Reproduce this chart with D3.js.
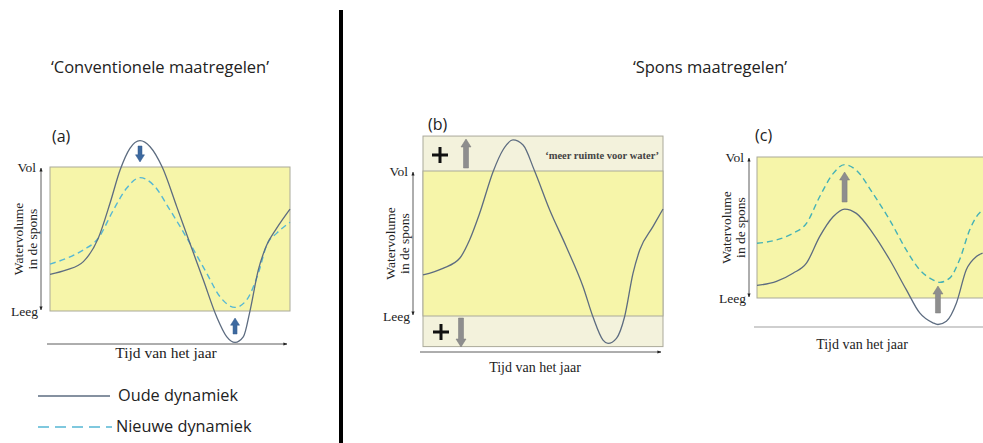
<!DOCTYPE html>
<html><head><meta charset="utf-8">
<script src="https://cdn.jsdelivr.net/npm/d3@7"></script>
<style>body{margin:0;background:#fff}svg{display:block}</style>
</head><body>
<script>
// ---- data (time 0..1 across the year, volume 0 = Leeg, 1 = Vol) ----
const titles = ["\u2018Conventionele maatregelen\u2019", "\u2018Spons maatregelen\u2019"];
const panelLabels = ["(a)", "(b)", "(c)"];
const yTicks = ["Vol", "Leeg"];
const yTitle = ["Watervolume", "in de spons"];
const xTitle = "Tijd van het jaar";
const legendLabels = ["Oude dynamiek", "Nieuwe dynamiek"];
const extraLabel = "\u2018meer ruimte voor water\u2019";

const aOudeT = [0,0.069,0.139,0.201,0.25,0.292,0.333,0.375,0.417,0.468,0.528,0.583,0.639,0.694,0.736,0.771,0.806,0.833,0.868,0.903,0.944,1.0];
const aOudeV = [0.255,0.285,0.343,0.505,0.748,0.979,1.13,1.183,1.141,0.998,0.725,0.47,0.215,-0.039,-0.178,-0.218,-0.178,-0.002,0.285,0.458,0.574,0.708];
const aNieuweT = [0,0.069,0.139,0.201,0.264,0.319,0.375,0.431,0.5,0.583,0.653,0.708,0.771,0.819,0.868,0.903,0.944,1.0];
const aNieuweV = [0.326,0.366,0.424,0.505,0.701,0.852,0.926,0.875,0.701,0.47,0.262,0.1,0.025,0.076,0.262,0.458,0.539,0.616];

const bOudeT = [0,0.083,0.153,0.194,0.236,0.292,0.333,0.375,0.417,0.465,0.528,0.597,0.667,0.708,0.75,0.771,0.806,0.84,0.875,0.903,0.958,1.0];
const bOudeV = [0.283,0.329,0.398,0.524,0.708,0.995,1.145,1.214,1.179,1.0,0.731,0.478,0.202,-0.005,-0.166,-0.189,-0.154,-0.005,0.294,0.455,0.616,0.738];
const bBands = [1.241, -0.211];

const cOudeT = [0,0.081,0.15,0.206,0.261,0.317,0.365,0.414,0.483,0.553,0.622,0.678,0.733,0.754,0.789,0.831,0.872,0.914,0.94];
const cOudeV = [0.089,0.118,0.176,0.247,0.435,0.576,0.631,0.6,0.459,0.271,0.059,-0.106,-0.176,-0.188,-0.165,-0.035,0.2,0.294,0.318];
const cNieuweT = [0,0.081,0.15,0.206,0.261,0.317,0.365,0.414,0.483,0.553,0.622,0.678,0.733,0.761,0.803,0.844,0.886,0.914,0.94];
const cNieuweV = [0.388,0.412,0.459,0.529,0.718,0.882,0.946,0.906,0.741,0.553,0.341,0.2,0.129,0.111,0.141,0.271,0.482,0.576,0.624];

// ---- drawing ----
const W = 983, H = 443;
const svg = d3.select("body").append("svg").attr("width", W).attr("height", H);
const YELLOW = "#f6f5a9", PALE = "#f3f2dc", EDGE = "#aaa99a";
const SOLID = "#5d6c80", DASH = "#55b7d4", DASH_C = "#45b1b6";
const BLUE = "#3d69a0", GRAY = "#8e8e8e";
const serif = "'Liberation Serif','DejaVu Serif',serif";
const sans = "'Open Sans','Noto Sans',sans-serif";

const defs = svg.append("defs");
defs.append("marker").attr("id","ah").attr("viewBox","0 0 10 10").attr("refX",9).attr("refY",5)
  .attr("markerWidth",5).attr("markerHeight",5).attr("orient","auto-start-reverse")
  .append("path").attr("d","M0,1 L10,5 L0,9 Z").attr("fill","#222");

function zip(t, v){ return t.map((d,i)=>[d, v[i]]); }

function panel(cfg){
  const x = d3.scaleLinear().domain([0,1]).range(cfg.xr);
  const y = d3.scaleLinear().domain([0,1]).range(cfg.yr);
  const g = svg.append("g");
  const fs = cfg.fs;
  const line = d3.line().x(d=>x(d[0])).y(d=>y(d[1])).curve(d3.curveMonotoneX);
  if (cfg.bands){
    g.append("rect").attr("x",x(0)).attr("y",y(cfg.bands[0])).attr("width",x(1)-x(0))
      .attr("height",y(cfg.bands[1])-y(cfg.bands[0])).attr("fill",PALE).attr("stroke",EDGE).attr("stroke-width",1);
  }
  g.append("rect").attr("x",x(0)).attr("y",y(1)).attr("width",x(1)-x(0)).attr("height",y(0)-y(1))
    .attr("fill",YELLOW).attr("stroke",EDGE).attr("stroke-width",1);
  // y axis (double arrow)
  g.append("line").attr("x1",cfg.ax).attr("x2",cfg.ax).attr("y1",y(1)+1).attr("y2",y(0)-1)
    .attr("stroke","#333").attr("stroke-width",0.8)
    .attr("marker-start","url(#ah)").attr("marker-end","url(#ah)");
  g.append("text").attr("x",cfg.ax-5).attr("y",y(1)).attr("dy","0.35em").attr("text-anchor","end")
    .attr("font-family",serif).attr("font-size",fs).attr("fill","#222").text(yTicks[0]);
  g.append("text").attr("x",cfg.ax-3).attr("y",y(0)).attr("dy","0.35em").attr("text-anchor","end")
    .attr("font-family",serif).attr("font-size",fs).attr("fill","#222").text(yTicks[1]);
  const ym = (y(0)+y(1))/2;
  const yt = g.append("text").attr("transform",`translate(${cfg.ax-17},${ym}) rotate(-90)`)
    .attr("text-anchor","middle").attr("font-family",serif).attr("font-size",13.5).attr("fill","#222");
  yt.append("tspan").attr("x",0).attr("dy","-0.1em").text(yTitle[0]);
  yt.append("tspan").attr("x",0).attr("dy","1.05em").text(yTitle[1]);
  // x axis
  const xl = g.append("line").attr("x1",x(0)-3).attr("x2",cfg.xEnd).attr("y1",cfg.xAxisY).attr("y2",cfg.xAxisY)
    .attr("stroke", cfg.xArrow ? "#333" : "#a0a0a0").attr("stroke-width", cfg.xArrow ? 0.8 : 1.2);
  if (cfg.xArrow) xl.attr("marker-end","url(#ah)");
  g.append("text").attr("x",cfg.xTitleX).attr("y",cfg.xTitleY).attr("text-anchor","middle")
    .attr("font-family",serif).attr("font-size",cfg.xfs).attr("fill","#222").text(xTitle);
  // panel label
  g.append("text").attr("x",cfg.labelPos[0]).attr("y",cfg.labelPos[1]).attr("font-family",sans)
    .attr("font-size",16).attr("fill","#222").text(cfg.label);
  // curves
  if (cfg.nieuwe) g.append("path").datum(cfg.nieuwe).attr("d",line).attr("fill","none")
    .attr("stroke",cfg.dashColor).attr("stroke-width",1.4).attr("stroke-dasharray","6,4");
  g.append("path").datum(cfg.oude).attr("d",line).attr("fill","none")
    .attr("stroke",SOLID).attr("stroke-width",1.3);
  return {g, x, y};
}

function blockArrow(g, cx, yBase, yTip, color, shaft, head){
  const dir = yTip < yBase ? 1 : -1; // 1 = pointing up
  const hl = Math.min(8, Math.abs(yBase-yTip)*0.45);
  const yNeck = yTip + dir*hl;
  const p = d3.path();
  p.moveTo(cx-shaft/2, yBase); p.lineTo(cx-shaft/2, yNeck); p.lineTo(cx-head/2, yNeck);
  p.lineTo(cx, yTip); p.lineTo(cx+head/2, yNeck); p.lineTo(cx+shaft/2, yNeck);
  p.lineTo(cx+shaft/2, yBase); p.closePath();
  g.append("path").attr("d",p.toString()).attr("fill",color).attr("stroke",d3.color(color).darker(0.4)).attr("stroke-width",0.5);
}
function plus(g, cx, cy){
  g.append("path").attr("d",`M${cx-8},${cy}H${cx+8}M${cx},${cy-8}V${cy+8}`)
    .attr("stroke","#111").attr("stroke-width",3);
}

// titles & divider
svg.append("text").attr("x",160).attr("y",73).attr("text-anchor","middle").attr("font-family",sans)
  .attr("font-size",16.5).attr("fill","#222").text(titles[0]);
svg.append("text").attr("x",710).attr("y",73).attr("text-anchor","middle").attr("font-family",sans)
  .attr("font-size",16.5).attr("fill","#222").text(titles[1]);
svg.append("line").attr("x1",341).attr("x2",341).attr("y1",10).attr("y2",H)
  .attr("stroke","#000").attr("stroke-width",4);

// panel a
const A = panel({xr:[50,290], yr:[311,167], ax:41, xAxisY:344, xEnd:287, xArrow:true,
  xTitleX:166, xTitleY:358, xfs:15.5, fs:13.5, label:panelLabels[0], labelPos:[52,142],
  oude:zip(aOudeT,aOudeV), nieuwe:zip(aNieuweT,aNieuweV), dashColor:DASH});
blockArrow(A.g, A.x(0.375), 146, 162, BLUE, 4, 9);
blockArrow(A.g, A.x(0.771), 334, 318, BLUE, 4, 9);

// panel b
const B = panel({xr:[423,663], yr:[316,171], ax:413, xAxisY:352, xEnd:661, xArrow:true,
  xTitleX:535, xTitleY:372, xfs:14, fs:13.5, label:panelLabels[1], labelPos:[428,130],
  oude:zip(bOudeT,bOudeV), bands:bBands});
plus(B.g, 440, 155);
blockArrow(B.g, 466, 168, 139, GRAY, 5, 10);
plus(B.g, 441, 332);
blockArrow(B.g, 461, 318, 347, GRAY, 5, 10);
B.g.append("text").attr("x",659).attr("y",159).attr("text-anchor","end").attr("font-family",serif)
  .attr("font-size",10.5).attr("font-weight","bold").attr("fill","#444").text(extraLabel);

// panel c
const C = panel({xr:[757,997], yr:[298,157], ax:749, xAxisY:327, xEnd:990, xArrow:false,
  xTitleX:862, xTitleY:349, xfs:14, fs:13.5, label:panelLabels[2], labelPos:[755,141],
  oude:zip(cOudeT,cOudeV), nieuwe:zip(cNieuweT,cNieuweV), dashColor:DASH_C});
blockArrow(C.g, C.x(0.365), 202, 172, GRAY, 5, 10);
blockArrow(C.g, C.x(0.754), 313, 286, GRAY, 5, 10);

// legend
const leg = svg.append("g");
leg.append("line").attr("x1",38).attr("x2",110).attr("y1",396).attr("y2",396).attr("stroke",SOLID).attr("stroke-width",1.5);
leg.append("text").attr("x",118).attr("y",401).attr("font-family",sans).attr("font-size",16.3).attr("fill","#222").text(legendLabels[0]);
leg.append("line").attr("x1",38).attr("x2",112).attr("y1",427).attr("y2",427).attr("stroke",DASH).attr("stroke-width",1.5).attr("stroke-dasharray","11,6");
leg.append("text").attr("x",116).attr("y",432).attr("font-family",sans).attr("font-size",16.3).attr("fill","#222").text(legendLabels[1]);
</script>
</body></html>
